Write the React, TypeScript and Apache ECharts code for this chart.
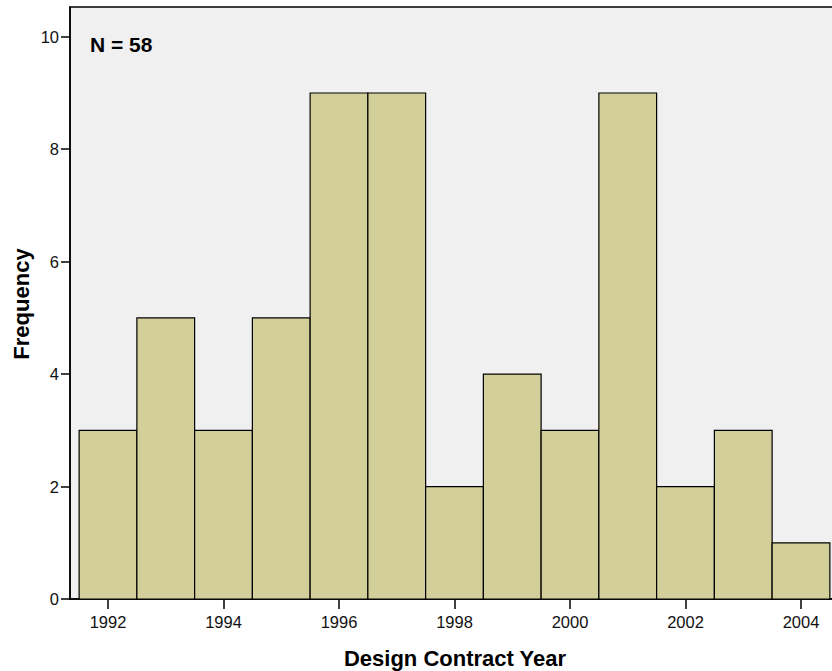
import React, { useEffect, useRef } from "react";
import * as echarts from "echarts";

const years = [1992, 1993, 1994, 1995, 1996, 1997, 1998, 1999, 2000, 2001, 2002, 2003, 2004];
const counts = [3, 5, 3, 5, 9, 9, 2, 4, 3, 9, 2, 3, 1];
const xTicks = [1992, 1994, 1996, 1998, 2000, 2002, 2004];
const yTicks = [0, 2, 4, 6, 8, 10];

export default function App() {
  const ref = useRef<HTMLDivElement>(null);
  useEffect(() => {
    document.body.style.margin = "0";
    const chart = echarts.init(ref.current!, null, { renderer: "svg" });
    const font = "'Liberation Sans', Arial, sans-serif";
    chart.setOption({
      animation: false,
      backgroundColor: "#ffffff",
      grid: {
        left: 70,
        top: 7,
        right: 0,
        bottom: 72,
        show: true,
        backgroundColor: "#f0f0f0",
        borderColor: "#000",
        borderWidth: 1.5,
      },
      xAxis: {
        type: "value",
        min: 1991.342,
        max: 2004.71,
        interval: 2,
        axisLine: { show: true, onZero: false, lineStyle: { color: "#000", width: 1.5 } },
        axisTick: { show: true, length: 10, lineStyle: { color: "#000", width: 1.5 }, customValues: xTicks },
        axisLabel: {
          color: "#111",
          fontSize: 16.5,
          fontFamily: font,
          margin: 14,
          customValues: xTicks,
          formatter: (v: number) => String(v),
        },
        splitLine: { show: false },
      },
      yAxis: {
        type: "value",
        min: 0,
        max: 10.53,
        axisLine: { show: true, lineStyle: { color: "#000", width: 1.5 } },
        axisTick: { show: true, length: 9, lineStyle: { color: "#000", width: 1.5 }, customValues: yTicks },
        axisLabel: {
          color: "#111",
          fontSize: 16.5,
          fontFamily: font,
          margin: 11,
          customValues: yTicks,
        },
        splitLine: { show: false },
      },
      graphic: [
        {
          type: "text",
          left: 90,
          top: 34,
          style: { text: "N = 58", font: `bold 21px ${font}`, fill: "#000" },
        },
        {
          type: "text",
          x: 455,
          y: 658,
          style: {
            text: "Design Contract Year",
            font: `bold 22px ${font}`,
            fill: "#000",
            align: "center",
            verticalAlign: "middle",
          },
        },
        {
          type: "text",
          x: 21,
          y: 304,
          rotation: Math.PI / 2,
          style: {
            text: "Frequency",
            font: `bold 22px ${font}`,
            fill: "#000",
            align: "center",
            verticalAlign: "middle",
          },
        },
      ],
      series: [
        {
          type: "custom",
          data: years.map((y, i) => [y, counts[i]]),
          renderItem: (params: any, api: any) => {
            const x = api.value(0);
            const v = api.value(1);
            const p1 = api.coord([x - 0.5, v]);
            const p2 = api.coord([x + 0.5, 0]);
            return {
              type: "rect",
              shape: { x: p1[0], y: p1[1], width: p2[0] - p1[0], height: p2[1] - p1[1] },
              style: { fill: "#d3cf9a", stroke: "#000", lineWidth: 1.2 },
            };
          },
        },
      ],
    });
    return () => chart.dispose();
  }, []);
  return (
    <div style={{ width: 832, height: 671, overflow: "hidden", position: "relative" }}>
      <div ref={ref} style={{ width: 842, height: 671 }} />
    </div>
  );
}
